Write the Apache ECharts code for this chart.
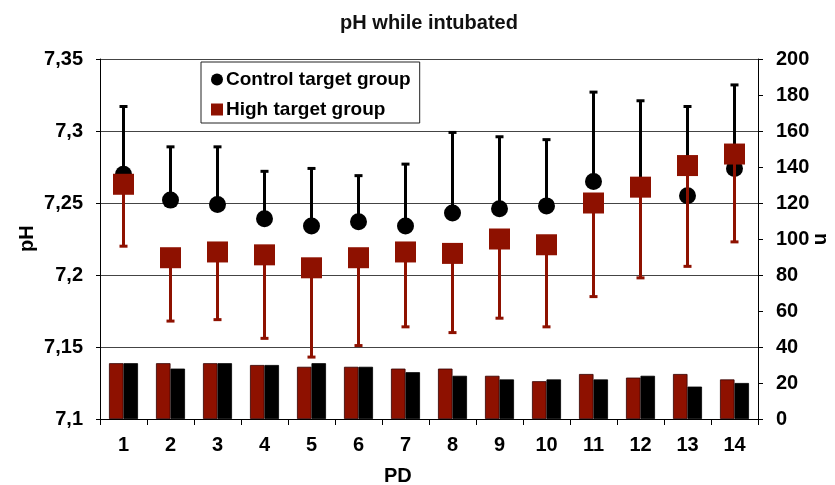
<!DOCTYPE html>
<html>
<head>
<meta charset="utf-8">
<script src="https://cdn.jsdelivr.net/npm/echarts@6/dist/echarts.min.js"></script>
<style>
html,body{margin:0;padding:0;background:#fff;}
#chart{width:835px;height:485px;}
</style>
</head>
<body>
<div id="chart"></div>
<script>
// ---- data ----
const categories = ['1','2','3','4','5','6','7','8','9','10','11','12','13','14'];
const controlMean  = [7.270, 7.252, 7.249, 7.239, 7.234, 7.237, 7.234, 7.243, 7.246, 7.248, 7.265, 7.260, 7.255, 7.274];
const controlUpper = [7.317, 7.289, 7.289, 7.272, 7.274, 7.269, 7.277, 7.299, 7.296, 7.294, 7.327, 7.321, 7.317, 7.332];
const highMean     = [7.263, 7.212, 7.216, 7.214, 7.205, 7.212, 7.216, 7.215, 7.225, 7.221, 7.250, 7.261, 7.276, 7.284];
const highLower    = [7.220, 7.168, 7.169, 7.156, 7.143, 7.151, 7.164, 7.160, 7.170, 7.164, 7.185, 7.198, 7.206, 7.223];
const nHigh        = [31, 31, 31, 30, 29, 29, 28, 28, 24, 21, 25, 23, 25, 22];
const nControl     = [31, 28, 31, 30, 31, 29, 26, 24, 22, 22, 22, 24, 18, 20];
const phTicks = { min: 7.1, max: 7.35, interval: 0.05 };
const nTicks  = { min: 0, max: 200, interval: 20 };

const RED = '#8E1100';
const BLACK = '#000000';
const FONT = 'Liberation Sans, Arial, sans-serif';

const chart = echarts.init(document.getElementById('chart'), null, {renderer: 'canvas'});

function errData(mean, end) {
  return categories.map((c, i) => [i, mean[i], end[i]]);
}
function errRender(color, lineW) {
  return function (params, api) {
    const p0 = api.coord([api.value(0), api.value(1)]);
    const p1 = api.coord([api.value(0), api.value(2)]);
    const capW = 8;
    return {
      type: 'group',
      children: [
        { type: 'line', shape: {x1: p0[0], y1: p0[1], x2: p1[0], y2: p1[1]},
          style: {stroke: color, lineWidth: lineW} },
        { type: 'line', shape: {x1: p1[0] - capW/2, y1: p1[1], x2: p1[0] + capW/2, y2: p1[1]},
          style: {stroke: color, lineWidth: 3} }
      ]
    };
  };
}

const option = {
  animation: false,
  backgroundColor: '#fff',
  textStyle: {fontFamily: FONT},
  title: {
    text: 'pH while intubated',
    left: 424, top: 8, textAlign: 'center',
    textStyle: {fontFamily: FONT, fontWeight: 'bold', fontSize: 20, color: '#111'}
  },
  legend: {
    orient: 'vertical',
    left: 201, top: 62,
    width: 221,
    padding: [8, 9, 4, 10],
    borderColor: '#222', borderWidth: 1,
    itemWidth: 12, itemHeight: 12, itemGap: 11,
    textStyle: {fontFamily: FONT, fontWeight: 'bold', fontSize: 19, color: '#000', padding: [0, 0, 0, -2]},
    data: [
      {name: 'Control target group', icon: 'circle'},
      {name: 'High target group', icon: 'rect'}
    ]
  },
  grid: {left: 100, right: 77, top: 59, bottom: 66, containLabel: false},
  xAxis: {
    type: 'category',
    data: categories,
    boundaryGap: true,
    axisLine: {show: true, lineStyle: {color: '#000', width: 1}},
    axisTick: {show: true, length: 6, lineStyle: {color: '#000'}},
    axisLabel: {margin: 16, fontFamily: FONT, fontWeight: 'bold', fontSize: 20, color: '#000'}
  },
  yAxis: [
    {
      type: 'value', position: 'left',
      min: phTicks.min, max: phTicks.max, interval: phTicks.interval,
      axisLine: {show: true, lineStyle: {color: '#000'}},
      axisTick: {show: true, length: 4, lineStyle: {color: '#000'}},
      splitLine: {show: true, lineStyle: {color: '#444', width: 1}},
      axisLabel: {
        margin: 17, fontFamily: FONT, fontWeight: 'bold', fontSize: 20, color: '#000',
        formatter: v => String(Number(v.toFixed(2))).replace('.', ',')
      }
    },
    {
      type: 'value', position: 'right',
      min: nTicks.min, max: nTicks.max, interval: nTicks.interval,
      axisLine: {show: true, lineStyle: {color: '#000'}},
      axisTick: {show: true, length: 5, lineStyle: {color: '#000'}},
      splitLine: {show: false},
      axisLabel: {margin: 18, fontFamily: FONT, fontWeight: 'bold', fontSize: 20, color: '#000'}
    }
  ],
  graphic: [
    {type: 'text', x: 17, y: 252, rotation: Math.PI / 2,
      style: {text: 'pH', font: 'bold 20px ' + FONT, fill: '#000'}},
    {type: 'text', x: 384, y: 466,
      style: {text: 'PD', font: 'bold 20px ' + FONT, fill: '#000'}},
    {type: 'text', x: 831, y: 233, rotation: -Math.PI / 2,
      style: {text: 'n', font: 'bold 20px ' + FONT, fill: '#000'}}
  ],
  series: [
    {
      name: 'n high', type: 'bar', yAxisIndex: 1, data: nHigh,
      barWidth: 14.5, barGap: '0%',
      itemStyle: {color: RED, borderColor: '#300', borderWidth: 0.8}, z: 1
    },
    {
      name: 'n control', type: 'bar', yAxisIndex: 1, data: nControl,
      barWidth: 14.5, barGap: '0%',
      itemStyle: {color: BLACK, borderColor: '#000', borderWidth: 0.8}, z: 1
    },
    {
      name: 'control err', type: 'custom', yAxisIndex: 0,
      data: errData(controlMean, controlUpper),
      encode: {x: 0, y: [1, 2]},
      renderItem: errRender(BLACK, 3), z: 3
    },
    {
      name: 'Control target group', type: 'scatter', yAxisIndex: 0,
      data: controlMean, symbol: 'circle', symbolSize: 17,
      itemStyle: {color: BLACK, opacity: 1}, z: 4
    },
    {
      name: 'high err', type: 'custom', yAxisIndex: 0,
      data: errData(highMean, highLower),
      encode: {x: 0, y: [1, 2]},
      renderItem: errRender(RED, 3), z: 5
    },
    {
      name: 'High target group', type: 'scatter', yAxisIndex: 0,
      data: highMean, symbol: 'rect', symbolSize: 21,
      itemStyle: {color: RED, opacity: 1}, z: 6
    }
  ]
};
chart.setOption(option);
</script>
</body>
</html>
